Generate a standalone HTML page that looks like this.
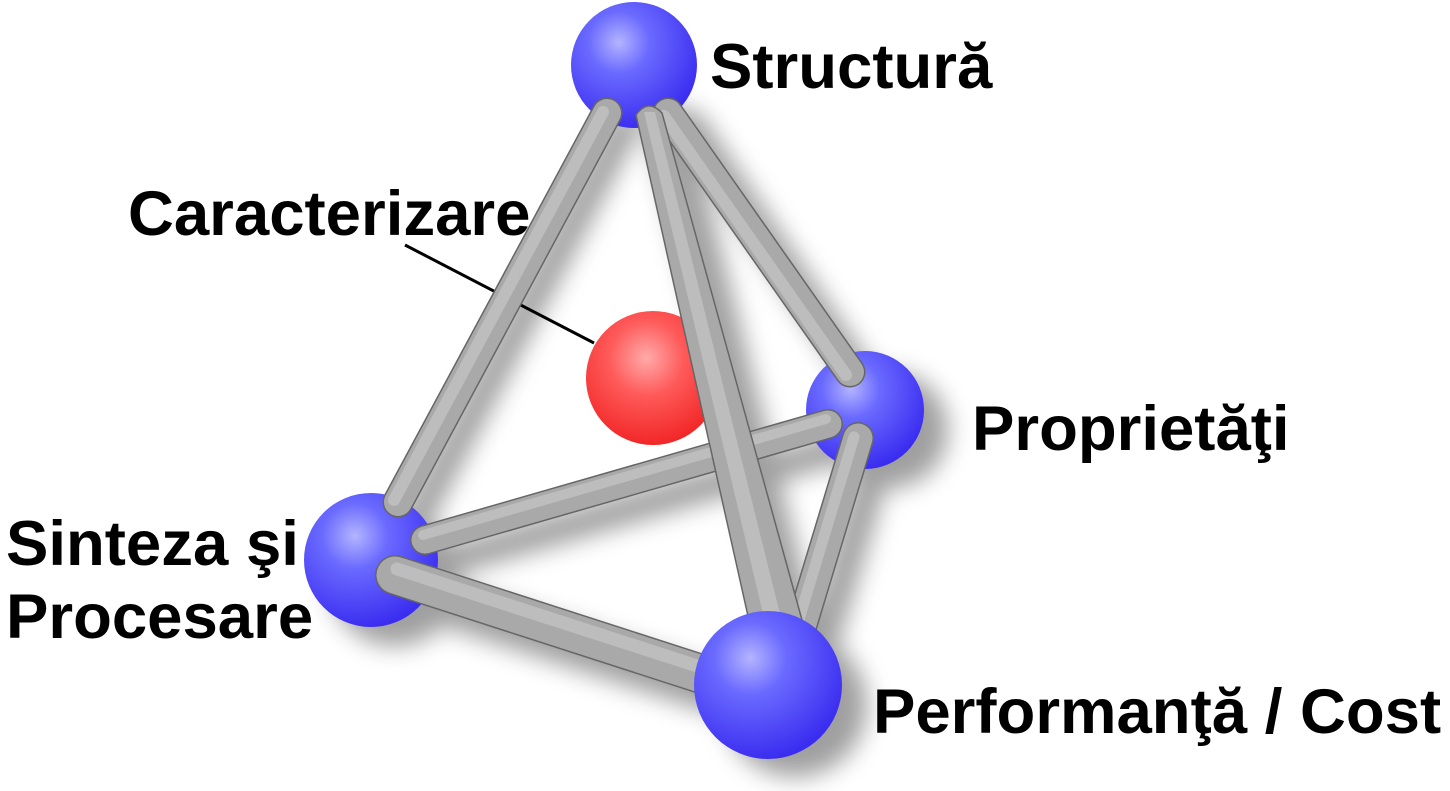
<!DOCTYPE html>
<html><head><meta charset="utf-8"><style>
html,body{margin:0;padding:0;background:#fff;}
svg{display:block}
text{font-family:"Liberation Sans",sans-serif;font-weight:bold;font-size:63.5px;fill:#000}
</style></head><body>
<svg width="1450" height="791" viewBox="0 0 1450 791">
<defs>
<radialGradient id="b" cx="0.38" cy="0.32" r="0.7">
<stop offset="0" stop-color="#b4b4ff"/><stop offset="0.35" stop-color="#6a6aff"/><stop offset="1" stop-color="#3a2cf0"/></radialGradient>
<radialGradient id="r" cx="0.45" cy="0.35" r="0.7">
<stop offset="0" stop-color="#ffaaaa"/><stop offset="0.4" stop-color="#ff5a5a"/><stop offset="1" stop-color="#f02020"/></radialGradient>
<filter id="sh" x="-50%" y="-50%" width="200%" height="200%"><feGaussianBlur stdDeviation="12"/></filter>
</defs>
<g filter="url(#sh)" fill="#777" stroke="#777" stroke-linecap="round" opacity="0.7">
<line x1="625" y1="125" x2="418" y2="515" stroke-width="30"/>
<line x1="690" y1="125" x2="870" y2="390" stroke-width="30"/>
<line x1="850" y1="445" x2="450" y2="560" stroke-width="30"/>
<line x1="878" y1="455" x2="820" y2="650" stroke-width="32"/>
<line x1="415" y1="595" x2="740" y2="700" stroke-width="42"/>
<line x1="668" y1="125" x2="800" y2="640" stroke-width="40"/>
<circle cx="890" cy="430" r="58" stroke="none"/>
<circle cx="395" cy="580" r="66" stroke="none"/>
<circle cx="795" cy="705" r="72" stroke="none"/>
</g>
<circle cx="634" cy="65" r="63" fill="url(#b)"/>
<circle cx="653" cy="378" r="67" fill="url(#r)"/>
<circle cx="865" cy="410" r="59" fill="url(#b)"/>
<circle cx="371" cy="560" r="67" fill="url(#b)"/>
<line x1="405" y1="245" x2="594" y2="343" stroke="#000" stroke-width="3"/>
<g stroke-linecap="round" fill="none">
<g><line x1="607" y1="113" x2="398" y2="502" stroke="#666" stroke-width="31"/><line x1="607" y1="113" x2="398" y2="502" stroke="#a9a9a9" stroke-width="28"/><line x1="603" y1="112" x2="394" y2="500" stroke="#bdbdbd" stroke-width="12"/></g>
<g><line x1="668" y1="113" x2="850" y2="372" stroke="#666" stroke-width="31"/><line x1="668" y1="113" x2="850" y2="372" stroke="#a9a9a9" stroke-width="28"/><line x1="664" y1="116" x2="846" y2="375" stroke="#bdbdbd" stroke-width="12"/></g>
<g><line x1="828" y1="424" x2="425" y2="540" stroke="#666" stroke-width="30"/><line x1="828" y1="424" x2="425" y2="540" stroke="#a9a9a9" stroke-width="27"/><line x1="826" y1="419" x2="423" y2="535" stroke="#bdbdbd" stroke-width="10"/></g>
<g><line x1="858" y1="438" x2="800" y2="630" stroke="#666" stroke-width="32"/><line x1="858" y1="438" x2="800" y2="630" stroke="#a9a9a9" stroke-width="29"/><line x1="854" y1="437" x2="796" y2="629" stroke="#bdbdbd" stroke-width="11"/></g>
<g><line x1="395" y1="575" x2="720" y2="680" stroke="#666" stroke-width="40"/><line x1="395" y1="575" x2="720" y2="680" stroke="#a9a9a9" stroke-width="37"/><line x1="397" y1="569" x2="722" y2="674" stroke="#bdbdbd" stroke-width="13"/></g>
</g>
<path d="M636 115 Q648 98 662 113 L802 620 L750 625 Z" fill="#a9a9a9" stroke="#666" stroke-width="1.5"/>
<path d="M644 112 L765 622 L782 622 L655 112 Z" fill="#bdbdbd"/>
<circle cx="768" cy="685" r="74" fill="url(#b)"/>
<text x="710" y="88">Structură</text>
<text x="128" y="235">Caracterizare</text>
<text x="972" y="450">Proprietăţi</text>
<text x="6" y="565">Sinteza şi</text>
<text x="6" y="638">Procesare</text>
<text x="873" y="733">Performanţă / Cost</text>
</svg>
</body></html>
